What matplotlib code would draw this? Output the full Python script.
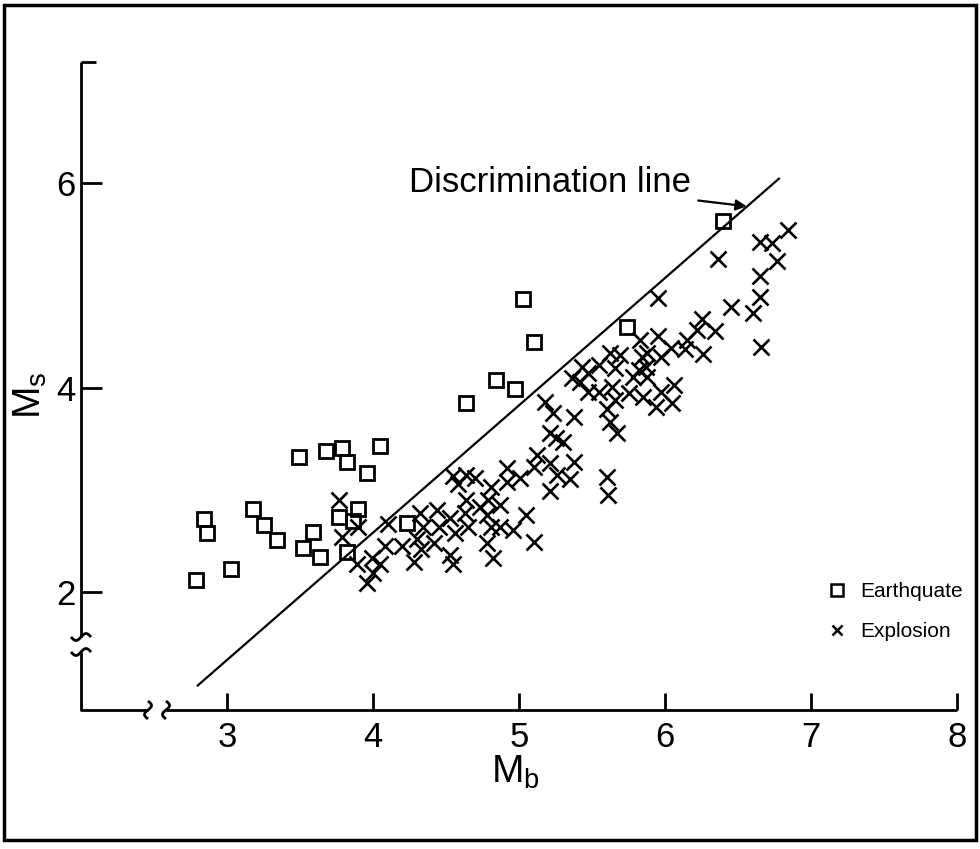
import numpy as np
import matplotlib
matplotlib.use("Agg")
import matplotlib.pyplot as plt
from matplotlib.lines import Line2D
from matplotlib.patches import Rectangle

plt.rcParams['font.family'] = ['Liberation Sans', 'DejaVu Sans']

# earthquakes (open squares)
eq_mb = [2.79, 2.84, 2.86, 3.03, 3.18, 3.25, 3.34, 3.49, 3.52, 3.59, 3.64, 3.68,
         3.77, 3.79, 3.82, 3.82, 3.86, 3.90, 3.96, 4.05, 4.23, 4.64, 4.84, 4.97,
         5.03, 5.10, 5.74, 6.40]
eq_ms = [2.12, 2.72, 2.58, 2.23, 2.81, 2.66, 2.51, 3.32, 2.43, 2.59, 2.34, 3.38,
         2.74, 3.41, 3.27, 2.39, 2.70, 2.81, 3.17, 3.43, 2.68, 3.85, 4.07, 3.99,
         4.86, 4.44, 4.59, 5.63]

# explosions (crosses)
ex_mb = [3.77, 3.90, 3.79, 3.89, 3.99, 4.05, 4.00, 3.96, 4.10, 4.08, 4.20, 4.28,
         4.33, 4.30, 4.32, 4.34, 4.42, 4.44, 4.45,
         4.53, 4.63, 4.56, 4.65, 4.53, 4.55, 4.55, 4.58, 4.64, 4.70, 4.64, 4.73,
         4.79, 4.81, 4.87, 4.78, 4.81, 4.78, 4.82, 4.87, 4.92, 4.92, 5.01, 4.96,
         5.05, 5.10, 5.12, 5.10,
         5.18, 5.23, 5.38, 5.21, 5.25, 5.30, 5.21, 5.38, 5.26, 5.35, 5.21, 5.60,
         5.61, 5.42, 5.47, 5.55, 5.64, 5.60, 5.62, 5.67, 5.66, 5.36, 5.43, 5.47,
         5.55, 5.62, 5.69, 5.66,
         5.75, 5.85, 5.94, 5.97, 6.05, 6.06, 5.95, 5.95, 5.83, 5.97, 5.88, 5.84,
         5.78, 5.88, 5.87, 5.82, 6.04,
         6.14, 6.15, 6.22, 6.25, 6.34, 6.26, 6.36, 6.45, 6.60, 6.65, 6.65, 6.66,
         6.77, 6.65, 6.73, 6.84]
ex_ms = [2.90, 2.64, 2.54, 2.28, 2.33, 2.28, 2.19, 2.09, 2.67, 2.45, 2.45, 2.30,
         2.42, 2.52, 2.77, 2.64, 2.48, 2.80, 2.64,
         2.73, 2.77, 2.58, 2.64, 2.36, 2.28, 3.14, 3.06, 3.15, 3.12, 2.90, 2.83,
         2.90, 3.03, 2.85, 2.75, 2.64, 2.48, 2.33, 2.64, 3.21, 3.08, 3.12, 2.61,
         2.75, 2.49, 3.34, 3.22,
         3.86, 3.75, 3.71, 3.56, 3.51, 3.47, 3.26, 3.27, 3.15, 3.11, 2.99, 3.13,
         2.95, 4.05, 3.96, 3.96, 4.01, 3.79, 3.66, 3.56, 3.88, 4.09, 4.20, 4.14,
         4.22, 4.34, 4.32, 4.19,
         3.95, 3.91, 3.81, 3.96, 3.85, 4.02, 4.87, 4.50, 4.46, 4.30, 4.34, 4.30,
         4.10, 4.10, 4.20, 4.17, 4.39,
         4.38, 4.46, 4.56, 4.67, 4.55, 4.33, 5.26, 4.79, 4.73, 4.88, 5.09, 4.40,
         5.24, 5.42, 5.41, 5.54]

# discrimination line end points
line_mb = [2.80, 6.78]
line_ms = [1.09, 6.04]

xticks = [3, 4, 5, 6, 7, 8]
yticks = [2, 4, 6]

W, H = 980, 849
fig = plt.figure(figsize=(W / 100, H / 100), dpi=100)
ax_l, ax_b, ax_w, ax_h = 81, 710, 876, 648  # pixels
ax = fig.add_axes([ax_l / W, 1 - ax_b / H, ax_w / W, ax_h / H])
ax.set_xlim(2.0, 8.0)
ax.set_ylim(0.85, 7.18)

ax.plot(line_mb, line_ms, color='black', lw=1.6)
ax.plot(eq_mb, eq_ms, 's', mfc='none', mec='black', ms=9.5, mew=2.0)
ax.plot(ex_mb, ex_ms, 'x', color='black', ms=11, mew=1.9)

ax.annotate('Discrimination line', xy=(6.56, 5.77), xytext=(6.18, 6.0),
            ha='right', va='center', fontsize=25,
            arrowprops=dict(arrowstyle='-|>', color='black', lw=1.6,
                            mutation_scale=16, shrinkA=3, shrinkB=0))

# axes lines with breaks
for s in ax.spines.values():
    s.set_visible(False)
kw = dict(color='black', lw=2.0, transform=ax.transAxes, clip_on=False,
          solid_capstyle='butt')
yb_lo, yb_hi = (710 - 652) / ax_h, (710 - 637) / ax_h
xb_lo, xb_hi = (148 - 81) / ax_w, (166 - 81) / ax_w
ax.plot([0, 0], [yb_hi, 1], **kw)
ax.plot([0, 0, xb_lo], [yb_lo, 0, 0], **kw)
ax.plot([xb_hi, 1], [0, 0], **kw)
ax.plot([0, 15 / ax_w], [1, 1], **kw)
t = np.linspace(-1, 1, 30)
for yb in (yb_lo, yb_hi):
    ax.plot(t * 10 / ax_w, yb + 3.5 * np.sin(np.pi * t) / ax_h, **kw)
for xb in (xb_lo, xb_hi):
    ax.plot(xb + 3.5 * np.sin(np.pi * t) / ax_w, t * 9 / ax_h, **kw)

ax.set_xticks(xticks)
ax.set_yticks(yticks)
ax.tick_params(direction='in', length=12, width=2, labelsize=25, pad=8,
               top=False, right=False)
ax.tick_params(axis='y', length=15, pad=4)

fig.text(30 / W, 1 - 395 / H, r'M$_\mathregular{s}$', rotation=90,
         fontsize=28, ha='center', va='center')
fig.text(515 / W, 1 - 772 / H, r'M$_\mathregular{b}$', fontsize=28,
         ha='center', va='center')

handles = [Line2D([], [], ls='none', marker='s', mfc='none', mec='black',
                  ms=8, mew=1.8),
           Line2D([], [], ls='none', marker='x', color='black', ms=7, mew=1.8)]
fig.legend(handles, ['Earthquate', 'Explosion'], loc='upper left',
           bbox_to_anchor=(829 / W, 1 - 582 / H), frameon=False, fontsize=15,
           handlelength=0.8, handletextpad=0.7, labelspacing=1.0,
           borderaxespad=0, borderpad=0)

# outer frame
fig.patches.append(Rectangle((4 / W, 9 / H), 972 / W, 835 / H, fill=False,
                             lw=2.5, ec='black', transform=fig.transFigure))

fig.savefig('out.png', dpi=100)
